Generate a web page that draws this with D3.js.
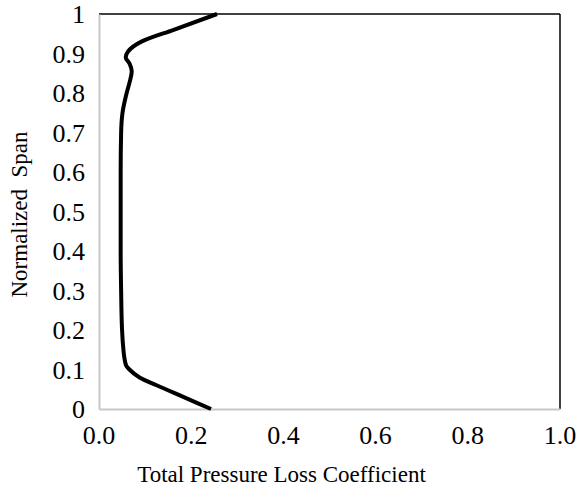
<!DOCTYPE html>
<html><head><meta charset="utf-8">
<script src="https://cdn.jsdelivr.net/npm/d3@7"></script>
<style>body{margin:0;background:#fff}svg{display:block}</style>
</head><body>
<script>
const span = [0, 0.03, 0.06, 0.08, 0.1, 0.11, 0.13, 0.15, 0.2, 0.3, 0.4, 0.5, 0.6, 0.7, 0.75, 0.8, 0.83, 0.855, 0.875, 0.89, 0.905, 0.93, 0.96, 1.0];
const loss = [0.243, 0.184, 0.125, 0.088, 0.066, 0.059, 0.055, 0.053, 0.050, 0.048, 0.047, 0.047, 0.047, 0.048, 0.051, 0.060, 0.067, 0.071, 0.066, 0.058, 0.063, 0.092, 0.162, 0.256];
const xTicks = [0, 0.2, 0.4, 0.6, 0.8, 1.0];
const yTicks = [0, 0.1, 0.2, 0.3, 0.4, 0.5, 0.6, 0.7, 0.8, 0.9, 1];

const W = 579, H = 490;
const m = {l: 99, r: 19, t: 14, b: 81};
const FONT = "'Liberation Serif', 'DejaVu Serif', serif";
const svg = d3.select("body").append("svg").attr("width", W).attr("height", H);
const x = d3.scaleLinear().domain([0, 1]).range([m.l, W - m.r]);
const y = d3.scaleLinear().domain([0, 1]).range([H - m.b, m.t]);

svg.append("line").attr("x1", x(0)).attr("x2", x(1)).attr("y1", y(1)).attr("y2", y(1)).attr("stroke", "#000").attr("stroke-width", 1.5);
svg.append("line").attr("x1", x(1)).attr("x2", x(1)).attr("y1", y(0)).attr("y2", y(1)).attr("stroke", "#000").attr("stroke-width", 1.5);

const xa = svg.append("g").attr("transform", `translate(0,${y(0)})`)
  .call(d3.axisBottom(x).tickValues(xTicks).tickSize(0).tickFormat(""));
const ya = svg.append("g").attr("transform", `translate(${x(0)},0)`)
  .call(d3.axisLeft(y).tickValues(yTicks).tickSize(0).tickFormat(""));
[xa, ya].forEach(a => a.select(".domain").attr("stroke", "#c8c8c8").attr("stroke-width", 2));

svg.append("g").selectAll("text").data(xTicks).join("text")
  .attr("x", d => x(d)).attr("y", y(0) + 35).attr("text-anchor", "middle")
  .style("font-family", FONT).style("font-size", "26px").attr("fill", "#000")
  .text(d => d3.format(".1f")(d));
svg.append("g").selectAll("text").data(yTicks).join("text")
  .attr("x", x(0) - 14).attr("y", d => y(d) + 9).attr("text-anchor", "end")
  .style("font-family", FONT).style("font-size", "26px").attr("fill", "#000")
  .text(d => String(d));

const line = d3.line().x((d, i) => x(loss[i])).y(d => y(d)).curve(d3.curveMonotoneY);
svg.append("path").datum(span).attr("d", line).attr("fill", "none").attr("stroke", "#000").attr("stroke-width", 4).attr("stroke-linejoin", "round");

svg.append("text").attr("x", x(0.5) - 48).attr("y", 482).attr("text-anchor", "middle")
  .style("font-family", FONT).style("font-size", "23px").attr("fill", "#000").text("Total Pressure Loss Coefficient");
svg.append("text").attr("transform", `translate(27,${y(0.5) + 3}) rotate(-90)`).attr("text-anchor", "middle")
  .style("font-family", FONT).style("font-size", "23px").attr("fill", "#000").style("white-space", "pre").text("Normalized  Span");
</script>
</body></html>
